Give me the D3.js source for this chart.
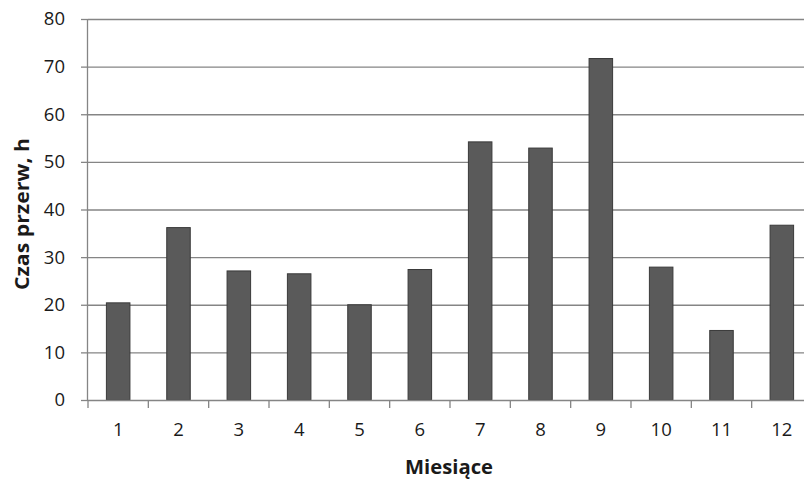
<!DOCTYPE html>
<html><head><meta charset="utf-8">
<script src="https://cdn.jsdelivr.net/npm/d3@7"></script>
<style>
body{margin:0;background:#fff;}
svg{display:block;}
text{font-family:"Open Sans","Liberation Sans",sans-serif;fill:#1a1a1a;}
</style></head>
<body><svg id="c" width="804" height="479"></svg>
<script>
const months = ["1","2","3","4","5","6","7","8","9","10","11","12"];
const values = [20.4, 36.2, 27.1, 26.5, 20.0, 27.4, 54.2, 52.9, 71.7, 27.9, 14.6, 36.7];
const yTicks = [0,10,20,30,40,50,60,70,80];
const xTitle = "Miesiące";
const yTitle = "Czas przerw, h";

const svg = d3.select("#c");
const pL = 88, pR = 812, pT = 19, pB = 400;
const x = d3.scaleBand().domain(months).range([pL, pR]).paddingInner(0.61).paddingOuter(0.305);
const y = d3.scaleLinear().domain([0, 80]).range([pB, pT]);

// gridlines
svg.append("g").selectAll("line").data(yTicks.filter(d=>d>0)).join("line")
  .attr("x1", pL).attr("x2", pR)
  .attr("y1", d=>y(d)+0.5).attr("y2", d=>y(d)+0.5)
  .attr("stroke", "#858585").attr("stroke-width", 1.3);

// bars
svg.append("g").selectAll("rect").data(values).join("rect")
  .attr("x", (d,i)=>x(months[i]))
  .attr("width", x.bandwidth())
  .attr("y", d=>y(d))
  .attr("height", d=>y(0)-y(d))
  .attr("fill", "#5a5a5a").attr("stroke", "#3a3a3a").attr("stroke-width", 1);

// y axis
const yAxis = svg.append("g").attr("transform", `translate(${pL},0)`)
  .call(d3.axisLeft(y).tickValues(yTicks).tickSize(7).tickPadding(16));
yAxis.select(".domain").attr("stroke", "#858585").attr("stroke-width", 1.3).attr("d", `M-0.5,${pT}V${pB}`);
yAxis.selectAll(".tick line").attr("stroke", "#858585").attr("stroke-width", 1.3);
yAxis.selectAll(".tick text").attr("font-size", 18.5).attr("font-family", "Open Sans, sans-serif").attr("fill", "#1a1a1a");

// x axis
const xTickPos = d3.range(months.length + 1).map(i => pL + i * (pR - pL) / months.length);
const xAxis = svg.append("g").attr("transform", `translate(0,${pB})`)
  .call(d3.axisBottom(x).tickSize(0).tickPadding(23));
xAxis.select(".domain").attr("stroke", "#858585").attr("stroke-width", 1.3).attr("d", `M${pL},0.5H${pR}`);
xAxis.selectAll(".tick text").attr("font-size", 18.5).attr("font-family", "Open Sans, sans-serif").attr("fill", "#1a1a1a");
xAxis.selectAll("line.sep").data(xTickPos).join("line").attr("class","sep")
  .attr("x1", d=>d).attr("x2", d=>d).attr("y1", 0).attr("y2", 8)
  .attr("stroke", "#858585").attr("stroke-width", 1.3);

// titles
svg.append("text").attr("x", 449).attr("y", 474)
  .attr("text-anchor","middle").attr("font-size",19.5).attr("font-weight","bold")
  .attr("textLength", 88).attr("lengthAdjust","spacingAndGlyphs").text(xTitle);
svg.append("text").attr("transform", `translate(29,214) rotate(-90)`)
  .attr("text-anchor","middle").attr("font-size",20).attr("font-weight","bold")
  .attr("textLength", 152).attr("lengthAdjust","spacingAndGlyphs").text(yTitle);
</script></body></html>
